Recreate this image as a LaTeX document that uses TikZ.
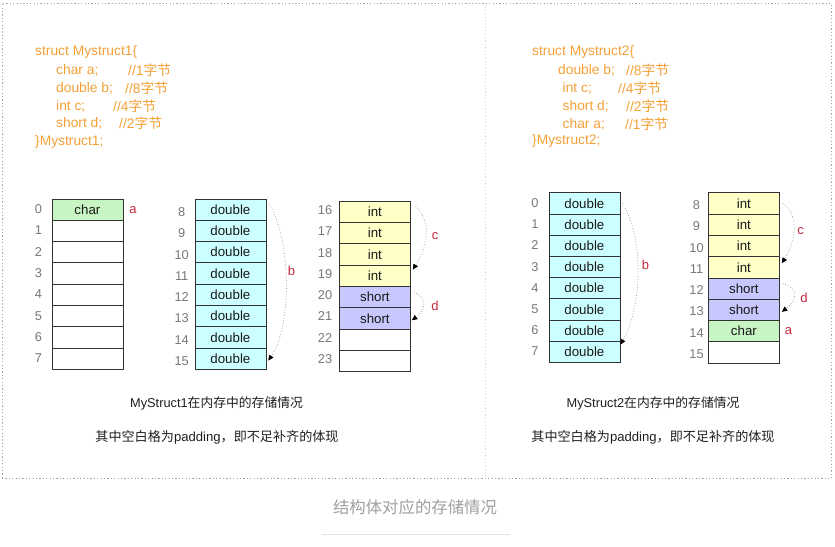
\documentclass[tikz,border=0pt]{standalone}
\usepackage{fontspec}
\setmainfont{Liberation Sans}
\newfontfamily\cjk{Noto Sans CJK SC}
\usetikzlibrary{arrows.meta}
\definecolor{codeor}{HTML}{F4A036}
\definecolor{dblfill}{HTML}{CCFFFF}
\definecolor{intfill}{HTML}{FFFFC8}
\definecolor{shortfill}{HTML}{C8C8FF}
\definecolor{charfill}{HTML}{C8F5C4}
\definecolor{lblred}{HTML}{C8283C}
\definecolor{idxgray}{HTML}{777777}
\definecolor{cellline}{HTML}{333333}
\begin{document}
\begin{tikzpicture}[x=1pt,y=-1pt,
  cell/.style={draw=cellline, line width=0.8pt, fill=white, anchor=north west, inner sep=0pt,
    minimum width=71pt, minimum height=21.3pt, font=\fontsize{13.3}{15}\selectfont, text=black!90},
  dbl/.style={fill=dblfill}, intc/.style={fill=intfill}, shortc/.style={fill=shortfill}, charc/.style={fill=charfill},
  idx/.style={text=idxgray, font=\fontsize{12.8}{14}\selectfont, inner sep=0pt},
  lbl/.style={text=lblred, font=\fontsize{13}{14}\selectfont, inner sep=0pt},
  code/.style={text=codeor, anchor=west, inner sep=0pt, font=\fontsize{13.8}{15}\selectfont},
  captxt/.style={text=black!88, inner sep=0pt, font=\fontsize{12.8}{14}\selectfont},
  conn/.style={draw=gray!85, dotted, line width=0.7pt, -{Triangle[length=5.5pt,width=5pt,color=black]}}
]
\useasboundingbox (0,0) rectangle (835,546);
% frame
\draw[gray!70, line width=0.7pt, dash pattern=on 1.2pt off 2.2pt] (2,478) -- (2,3) -- (831,3) -- (831,478);
\draw[gray!75, line width=0.8pt, dash pattern=on 1.2pt off 2.2pt] (2,478) -- (831,478);
\draw[gray!30, line width=0.7pt, dash pattern=on 1.2pt off 2.2pt] (485,3) -- (485,478);

% code left
\node[code] (s1a) at (35,52) {struct Mystruct1\{};
\node[code] (s1b) at (56,70) {char a;};
\node[code] (s1bc) at (128,70) {//1{\cjk 字节}};
\node[code] (s1c) at (56,88) {double b;};
\node[code] (s1cc) at (125,88) {//8{\cjk 字节}};
\node[code] (s1d) at (56,106) {int c;};
\node[code] (s1dc) at (113,106) {//4{\cjk 字节}};
\node[code] (s1e) at (56,123) {short d;};
\node[code] (s1ec) at (119,123) {//2{\cjk 字节}};
\node[code] (s1f) at (35,142) {\}Mystruct1;};

% code right
\node[code] (s2a) at (532,52) {struct Mystruct2\{};
\node[code] (s2b) at (558,70.5) {double b;};
\node[code] (s2bc) at (626,70.5) {//8{\cjk 字节}};
\node[code] (s2c) at (562.5,88) {int c;};
\node[code] (s2cc) at (618,88) {//4{\cjk 字节}};
\node[code] (s2d) at (562.5,106) {short d;};
\node[code] (s2dc) at (626,106) {//2{\cjk 字节}};
\node[code] (s2e) at (562.5,124) {char a;};
\node[code] (s2ec) at (625,124) {//1{\cjk 字节}};
\node[code] (s2f) at (532,141) {\}Mystruct2;};

% ---------- left col A ----------
\node[cell,charc] (A0) at (51.5,198.5) {char};
\foreach \i in {1,...,7} \node[cell] (A\i) at (51.5,198.5+21.3*\i) {};
\foreach \i in {0,...,7} \node[idx] (la\i) at (38.5,209.2+21.3*\i) {\i};
\node[lbl] (ta) at (133,210) {a};

% ---------- left col B ----------
\foreach \i in {0,...,7} {
  \node[cell,dbl] (B\i) at (194.5,198.5+21.3*\i) {double};
  \pgfmathtruncatemacro\n{\i+8}
  \node[idx] (lb\i) at (181.7,212+21.3*\i) {\n};
}
\node[lbl] (tb) at (291.5,271) {b};
\draw[conn] ([shift={(3,6)}]B0.north east) .. controls +(22,35) and +(24,-36) .. ([shift={(2,2)}]B7.east);

% ---------- left col C ----------
\foreach \i in {0,...,3} \node[cell,intc] (C\i) at (339,200.7+21.3*\i) {int};
\foreach \i in {4,5} \node[cell,shortc] (C\i) at (339,200.7+21.3*\i) {short};
\foreach \i in {6,7} \node[cell] (C\i) at (339,200.7+21.3*\i) {};
\foreach \i in {0,...,7} {
  \pgfmathtruncatemacro\n{\i+16}
  \node[idx] (lc\i) at (325,210+21.3*\i) {\n};
}
\node[lbl] (tc) at (435,236) {c};
\node[lbl] (td) at (435,306) {d};
\draw[conn] ([shift={(5,6)}]C0.north east) .. controls +(17,15) and +(14,-22) .. ([shift={(2,-6)}]C3.east);
\draw[conn] ([shift={(3,6)}]C4.north east) .. controls +(14,6) and +(14,-10) .. ([shift={(1,2)}]C5.east);

% ---------- right col D ----------
\foreach \i in {0,...,7} {
  \node[cell,dbl] (D\i) at (548.5,192.3+21.2*\i) {double};
  \node[idx] (ld\i) at (535,203+21.2*\i) {\i};
}
\node[lbl] (tb2) at (645.5,265) {b};
\draw[conn] ([shift={(2,11)}]D0.north east) .. controls +(22,35) and +(22,-38) .. ([shift={(0,-7)}]D7.east);

% ---------- right col E ----------
\foreach \i in {0,...,3} \node[cell,intc] (E\i) at (708,192.3+21.3*\i) {int};
\foreach \i in {4,5} \node[cell,shortc] (E\i) at (708,192.3+21.3*\i) {short};
\node[cell,charc] (E6) at (708,192.3+21.3*6) {char};
\node[cell] (E7) at (708,192.3+21.3*7) {};
\foreach \i in {0,...,7} {
  \pgfmathtruncatemacro\n{\i+8}
  \node[idx] (le\i) at (696.5,205+21.3*\i) {\n};
}
\node[lbl] (tc2) at (800.5,231) {c};
\node[lbl] (td2) at (804,298) {d};
\node[lbl] (ta2) at (788.5,331) {a};
\draw[conn] ([shift={(3,11)}]E0.north east) .. controls +(17,12) and +(14,-22) .. ([shift={(2,-4)}]E3.east);
\draw[conn] ([shift={(3,6)}]E4.north east) .. controls +(16,5) and +(16,-12) .. ([shift={(2,2)}]E5.east);

% captions
\node[captxt] (cap1) at (216.5,403) {MyStruct1{\cjk 在内存中的存储情况}};
\node[captxt, font=\fontsize{13.1}{14}\selectfont] (cap1b) at (217,437) {{\cjk 其中空白格为}padding{\cjk ，即不足补齐的体现}};
\node[captxt] (cap2) at (653,403) {MyStruct2{\cjk 在内存中的存储情况}};
\node[captxt, font=\fontsize{13.1}{14}\selectfont] (cap2b) at (653,437) {{\cjk 其中空白格为}padding{\cjk ，即不足补齐的体现}};

% bottom caption
\node[inner sep=0pt, text=gray!75, font=\fontsize{16.4}{18}\selectfont\cjk] (bcap) at (415,507) {结构体对应的存储情况};
\coordinate (ul1) at (322,534);
\coordinate (ul2) at (510,534);
\draw[gray!20, line width=0.8pt] (ul1) -- (ul2);
\end{tikzpicture}
\end{document}
